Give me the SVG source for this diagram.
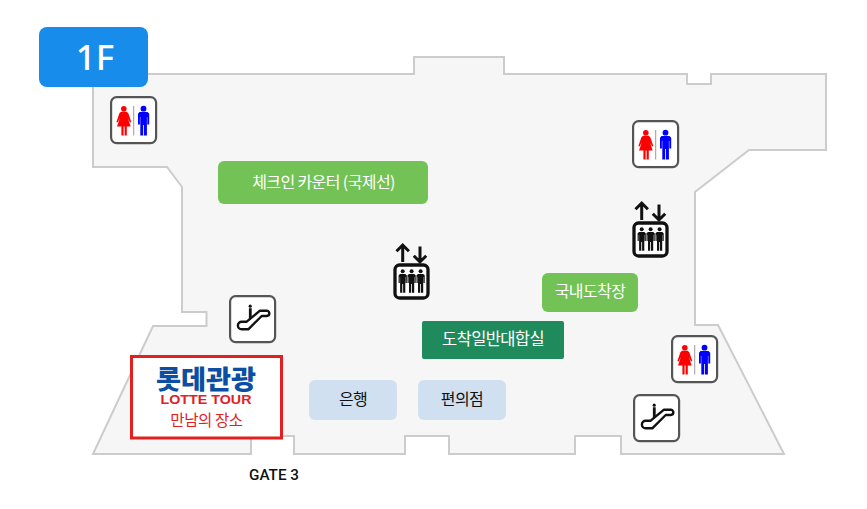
<svg xmlns="http://www.w3.org/2000/svg" width="867" height="509" viewBox="0 0 867 509">
<style>
text{font-family:"Noto Sans CJK KR","Noto Sans",sans-serif;text-anchor:middle}
.lab{font-size:16px;letter-spacing:-.6px}
.w{fill:#fff}.k{fill:#111}
.box{fill:#fff;stroke:#555;stroke-width:2.200}
</style>
<defs>
<g id="wc">
<rect class="box" x="1.100" y="1.100" width="45" height="46" rx="5.500"/>
<circle cx="13.800" cy="12.700" r="2.800" fill="#f00"/>
<path d="M11 15.800h5.600l1.700 1.500 3 8.700-1.300.6-2.200-4.500 2.900 8.400h-3.900V39.500h-2.200V30.500h-1V39.500h-2.200V30.500H7L9.900 22l-2.200 4.500-1.300-.6 3-8.700z" fill="#f00"/>
<rect x="23.200" y="10" width="1" height="29.500" fill="#999"/>
<circle cx="33.500" cy="12.700" r="2.900" fill="#00f"/>
<path d="M29.500 16h8l1.700 1.700v10.800h-1.900V21h-.4v18.500h-2.900V29h-.8V39.500h-2.900V21h-.4v7.500h-1.900V17.700z" fill="#00f"/>
</g>
<g id="esc">
<rect class="box" x="1.100" y="1.100" width="45" height="46" rx="5.500"/>
<path d="M12.700 26.700h5L31 15.700h6.700a2.650 2.650 0 0 1 0 5.300h-5L19.300 34.300h-6.600a3.800 3.800 0 0 1 0-7.600z" fill="none" stroke="#111" stroke-width="2.400" stroke-linejoin="round"/>
<circle cx="21.200" cy="11.200" r="1.600" fill="#111"/>
<path d="M19.900 13.300h2.800v8.500l-2.800 2.300z" fill="#111"/>
</g>
<g id="p" fill="#111">
<circle cx="0" cy="1.800" r="2"/>
<path d="M-2.600 4.500h5.200l1.500 1.300v7.700H2.900V7.500h-.3v15.800H.4V14.500h-.8v8.800h-2.200V7.500h-.3v6h-1.200V5.800z"/>
</g>
<g id="lift">
<path d="M9.700 17V0M3.500 6.200L9.700 0l6.200 6.200M27 1.500V17M20.800 10.800l6.200 6.200 6.200-6.200" fill="none" stroke="#111" stroke-width="3"/>
<rect x="2" y="20" width="33" height="33" rx="4.500" fill="#fff" stroke="#111" stroke-width="3.300"/>
<use href="#p" x="9.700" y="24.500"/>
<use href="#p" x="18.600" y="24.500"/>
<use href="#p" x="27.600" y="24.500"/>
</g>
</defs>
<rect width="867" height="509" fill="#fff"/>
<g id="floor">
<path d="M93 74H414V57H504V74H687V84H711V74H826V150H749L695 192V325H718L784 454H621V436H575V454H449V436H405V454H294V436H251V454H93L153 326H206.500V312H182V187L167 167H93Z" fill="#f6f6f6" stroke="#ccc" stroke-width="2"/>
</g>
<g id="floor-badge">
<rect x="39" y="27" width="109" height="60" rx="8" fill="#178ceb"/>
<text x="95" y="70" font-size="35" font-weight="500" fill="#fff" style="font-family:'Noto Sans',sans-serif">1F</text>
</g>
<g id="wc-1"><use href="#wc" x="110" y="96"/></g>
<g id="wc-2"><use href="#wc" x="632" y="120"/></g>
<g id="wc-3"><use href="#wc" x="671" y="335"/></g>
<g id="esc-1"><use href="#esc" x="229" y="295"/></g>
<g id="esc-2"><use href="#esc" x="633" y="394"/></g>
<g id="lift-1"><use href="#lift" x="393" y="245"/></g>
<g id="lift-2"><use href="#lift" x="632" y="203"/></g>
<g id="checkin">
<rect x="218" y="161" width="210" height="43" rx="6" fill="#73c255"/>
<text class="lab w" x="323.500" y="188">체크인 카운터 (국제선)</text>
</g>
<g id="domestic">
<rect x="542" y="273" width="96" height="39" rx="6" fill="#73c255"/>
<text class="lab w" x="590" y="297">국내도착장</text>
</g>
<g id="arrival-hall">
<rect x="422" y="321" width="142" height="38" rx="2" fill="#1f8a5c"/>
<text class="lab w" x="493" y="345" style="font-size:16.500px">도착일반대합실</text>
</g>
<g id="bank">
<rect x="309" y="380" width="88" height="40" rx="6" fill="#d0e0f1"/>
<text class="lab k" x="353" y="405">은행</text>
</g>
<g id="store">
<rect x="418" y="380" width="88" height="40" rx="6" fill="#d0e0f1"/>
<text class="lab k" x="462" y="405">편의점</text>
</g>
<g id="lotte">
<rect x="131.500" y="356.500" width="150" height="81.500" fill="#fff" stroke="#e1201f" stroke-width="3"/>
<text x="206" y="389" font-size="26.500" font-weight="900" fill="#0b4ea2" textLength="100" lengthAdjust="spacingAndGlyphs">롯데관광</text>
<text x="206" y="404" font-size="12" font-weight="900" fill="#e1201f" style="font-family:'Liberation Sans',sans-serif" textLength="91" lengthAdjust="spacingAndGlyphs">LOTTE TOUR</text>
<text x="206.500" y="426" font-size="15.500" fill="#e1201f" letter-spacing="-.4">만남의 장소</text>
</g>
<text x="274" y="480" font-size="15" font-weight="500" fill="#111" style="font-family:'Roboto',sans-serif" textLength="50" lengthAdjust="spacingAndGlyphs">GATE 3</text>
</svg>
